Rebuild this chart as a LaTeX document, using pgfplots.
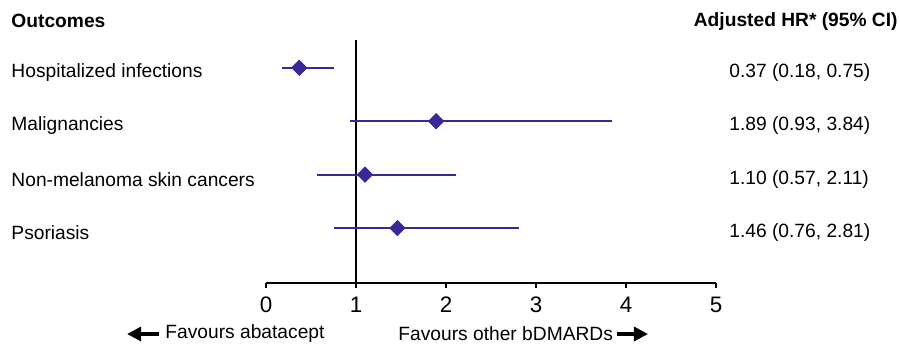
\documentclass[border=0pt]{standalone}
\usepackage{pgfplots}
\pgfplotsset{compat=1.18}
\usepackage{fontspec}
\setmainfont{Liberation Sans}
\usetikzlibrary{arrows.meta}
\definecolor{hrpurple}{RGB}{58,40,150}
\begin{document}
\begin{tikzpicture}
\begin{axis}[
  scale only axis,
  width=225pt, height=121.75pt,
  xmin=0, xmax=5, ymin=-0.03, ymax=4.53,
  axis x line=bottom, axis y line=none,
  axis line style={-, line width=0.6pt},
  x axis line style={-},
  xtick={0,1,2,3,4,5},
  xtick align=outside,
  major tick length=2.5pt,
  xtick style={line width=0.6pt, black},
  ticklabel style={font=\fontsize{11.2}{13}\selectfont},
  /pgf/number format/assume math mode=true,
  xticklabel style={yshift=-0.8pt},
  clip=false,
  every axis plot/.append style={line width=1pt},
]
% reference line at 1
\draw[line width=0.75pt, black] (axis cs:1,-0.03) -- (axis cs:1,4.53);
% CIs with point estimates
\addplot[hrpurple, mark=square*, mark size=2.65pt,
  mark options={rotate=45, fill=hrpurple, draw=hrpurple, line width=0.3pt},
  only marks,
  error bars/.cd, x dir=both, x explicit,
  error mark=none,
  error bar style={line width=1pt, hrpurple}]
  table[x=x, y=y, x error plus=ep, x error minus=em] {
x    y  ep   em
0.37 4  0.38 0.19
1.89 3  1.95 0.96
1.10 2  1.01 0.53
1.46 1  1.35 0.70
};
% re-draw marks on top
\addplot[only marks, mark=square*, mark size=2.65pt,
  mark options={rotate=45, fill=hrpurple, draw=hrpurple, line width=0.3pt}]
  table[x=x, y=y] {
x    y
0.37 4
1.89 3
1.10 2
1.46 1
};
\def\fs{\fontsize{9.6}{11.5}\selectfont}
% headers
\node[anchor=west, font=\fs\bfseries, inner sep=0pt] at (axis cs:-2.833,4.87) {Outcomes};
\node[anchor=east, font=\fs\bfseries, inner sep=0pt] at (axis cs:7.022,4.87) {Adjusted HR* (95\% CI)};
% row labels
\node[anchor=west, font=\fs, inner sep=0pt] at (axis cs:-2.833,3.91) {Hospitalized infections};
\node[anchor=west, font=\fs, inner sep=0pt] at (axis cs:-2.833,2.91) {Malignancies};
\node[anchor=west, font=\fs, inner sep=0pt] at (axis cs:-2.833,1.91) {Non-melanoma skin cancers};
\node[anchor=west, font=\fs, inner sep=0pt] at (axis cs:-2.833,0.91) {Psoriasis};
% HR text
\node[anchor=west, font=\fs, inner sep=0pt] at (axis cs:5.144,3.91) {0.37 (0.18, 0.75)};
\node[anchor=west, font=\fs, inner sep=0pt] at (axis cs:5.144,2.91) {1.89 (0.93, 3.84)};
\node[anchor=west, font=\fs, inner sep=0pt] at (axis cs:5.144,1.91) {1.10 (0.57, 2.11)};
\node[anchor=west, font=\fs, inner sep=0pt] at (axis cs:5.144,0.91) {1.46 (0.76, 2.81)};
% favours labels
\node[anchor=west, font=\fs, inner sep=0pt] at (axis cs:-1.122,-0.985) {Favours abatacept};
\draw[line width=1.6pt, -{Triangle[length=7pt, width=7pt]}] (axis cs:-1.189,-0.985) -- (axis cs:-1.544,-0.985);
\node[anchor=west, font=\fs, inner sep=0pt] at (axis cs:1.467,-0.985) {Favours other bDMARDs};
\draw[line width=1.6pt, -{Triangle[length=7pt, width=7pt]}] (axis cs:3.900,-0.985) -- (axis cs:4.244,-0.985);
\coordinate (bl) at (axis cs:-2.956,-1.21);
\coordinate (tr) at (axis cs:7.044,5.27);
\end{axis}
\pgfresetboundingbox
\path[use as bounding box] (bl) rectangle (tr);
\end{tikzpicture}
\end{document}
